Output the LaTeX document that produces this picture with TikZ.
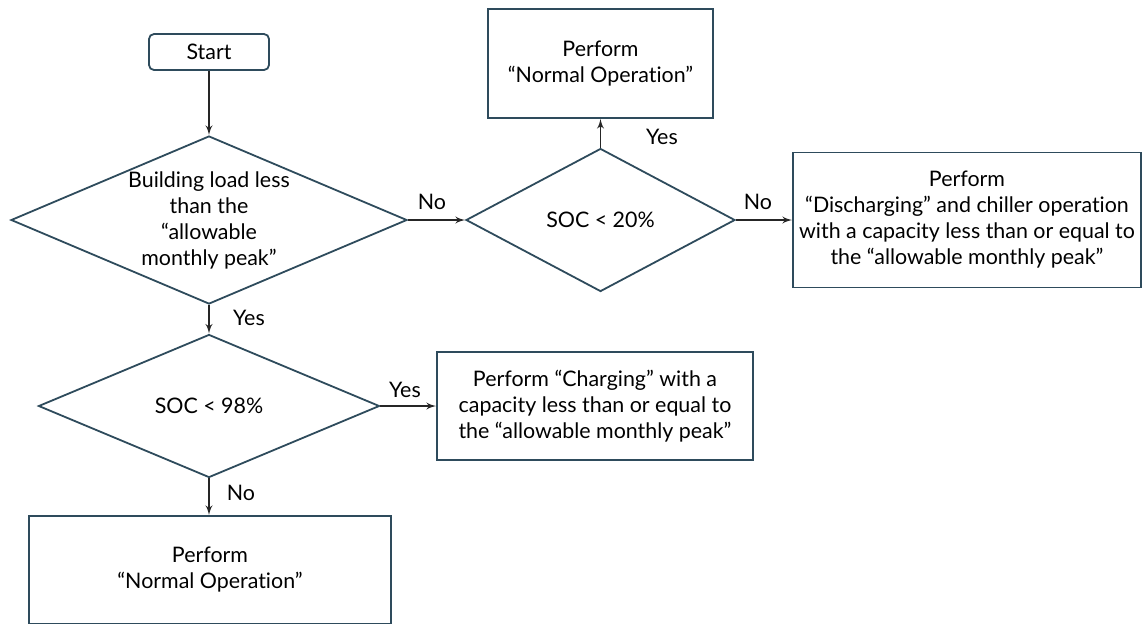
\documentclass[tikz,border=0pt]{standalone}
\usepackage{fontspec}
\setmainfont{Lato}[Ligatures = CommonOff]
\usetikzlibrary{shapes.geometric, arrows}
\definecolor{boxline}{HTML}{2E4B5C}

\begin{document}
\begin{tikzpicture}[x = 0.5pt, y = -0.5pt,
  every node/.style = {font = \fontsize{10.7}{13}\selectfont},
  box/.style = {draw = boxline, line width = 0.9pt, align = center, inner sep = 0pt},
  decision/.style = {draw = boxline, line width = 0.9pt, shape = diamond, inner sep = 0pt},
  flow/.style = {draw = black!85, line width = 0.7pt, -latex'}]

\useasboundingbox (0, 0) rectangle (1143, 623);

\node [box, rounded corners = 2.5pt, minimum width = 60pt, minimum height = 18pt] (start) at (209, 52) {Start};

\node [decision, minimum width = 198pt, minimum height = 84pt] (load) at (209, 220) {};
\node [align = center] (loadtext) at (209, 220) {Building load less\\than the\\“allowable\\monthly peak”};

\node [decision, minimum width = 134.5pt, minimum height = 71.5pt] (soc20) at (600.5, 220) {};
\node (soc20text) at (600.5, 220) {SOC < 20\%};

\node [box, minimum width = 112.5pt, minimum height = 54.5pt] (normtop) at (600.5, 63.5) {Perform\\“Normal Operation”};
\node [box, minimum width = 174pt, minimum height = 67.5pt] (discharge) at (967, 220) {Perform\\“Discharging” and chiller operation\\with a capacity less than or equal to\\the “allowable monthly peak”};

\node [decision, minimum width = 170.5pt, minimum height = 71.5pt] (soc98) at (209, 406) {};
\node (soc98text) at (209, 406) {SOC < 98\%};

\node [box, minimum width = 158pt, minimum height = 54pt] (charge) at (595, 406) {Perform “Charging” with a\\capacity less than or equal to\\the “allowable monthly peak”};
\node [box, minimum width = 181pt, minimum height = 54pt] (normbot) at (210, 570) {Perform\\“Normal Operation”};

% connectors
\path [flow] (start.south) -- (load.north);
\path [flow] (load.east) -- (soc20.west);
\path [flow] (soc20.north) -- (normtop.south);
\path [flow] (soc20.east) -- (discharge.west);
\path [flow] (load.south) -- (soc98.north);
\path [flow] (soc98.east) -- (charge.west);
\path [flow] (soc98.south) -- (soc98.south |- normbot.north);

% answers
\node (no1) at (432, 202) {No};
\node (yes1) at (662, 137) {Yes};
\node (no2) at (758, 202) {No};
\node (yes2) at (249, 318) {Yes};
\node (yes3) at (405, 390) {Yes};
\node (no3) at (241, 493) {No};
\end{tikzpicture}
\end{document}
